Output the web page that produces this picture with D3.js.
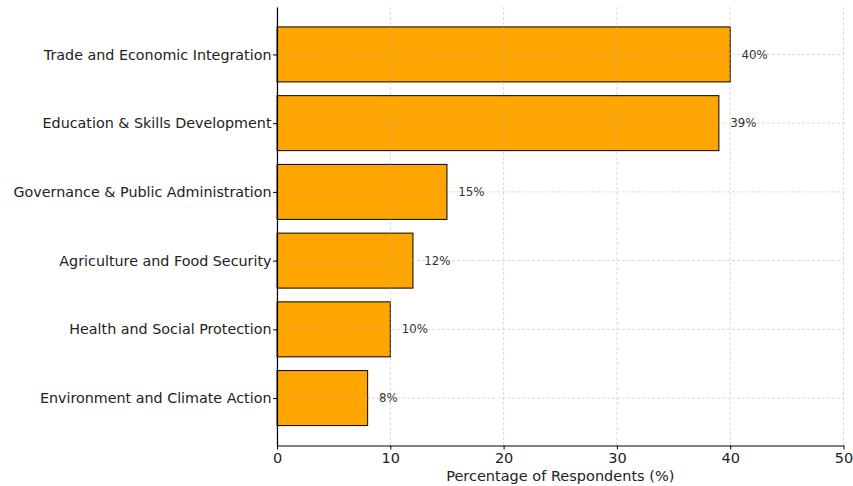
<!DOCTYPE html>
<html><head><meta charset="utf-8">
<script src="https://cdn.jsdelivr.net/npm/d3@7"></script>
<style>body{margin:0;background:#fff}svg{display:block}</style>
</head><body>
<svg id="c" width="853" height="486"></svg>
<script>
const categories = ["Environment and Climate Action","Health and Social Protection","Agriculture and Food Security","Governance & Public Administration","Education & Skills Development","Trade and Economic Integration"];
const values = [8, 10, 12, 15, 39, 40];
const xTicks = [0, 10, 20, 30, 40, 50];
const xLabel = "Percentage of Respondents (%)";

const svg = d3.select("#c");
const L = 277, R = 843.5, T = 7, B = 445.5;
const x = d3.scaleLinear().domain([0, 50]).range([L, R]);
// matplotlib-like continuous y: index positions, bar height 0.8, 5% margins
const lo = -0.4, hi = categories.length - 1 + 0.4, m = (hi - lo) * 0.05;
const y = d3.scaleLinear().domain([lo - m, hi + m]).range([B, T]);
const font = "DejaVu Sans, sans-serif";

// bars
svg.append("g").selectAll("rect").data(values).join("rect")
  .attr("x", x(0))
  .attr("y", (d, i) => y(i + 0.4))
  .attr("width", d => x(d) - x(0))
  .attr("height", (d, i) => y(i - 0.4) - y(i + 0.4))
  .attr("fill", "#FFA500").attr("stroke", "#000").attr("stroke-width", 1);

// grid (on top)
const grid = svg.append("g").attr("stroke", "#b0b0b0").attr("stroke-opacity", 0.6)
  .attr("stroke-dasharray", "3,2").attr("stroke-width", 0.8);
grid.selectAll("line.v").data(xTicks).join("line").attr("class", "v")
  .attr("x1", d => x(d)).attr("x2", d => x(d)).attr("y1", T).attr("y2", B);
grid.selectAll("line.h").data(categories).join("line").attr("class", "h")
  .attr("x1", L).attr("x2", R).attr("y1", (d, i) => y(i)).attr("y2", (d, i) => y(i));

// value labels
svg.append("g").selectAll("text").data(values).join("text")
  .attr("x", d => x(d + 1)).attr("y", (d, i) => y(i)).attr("dy", "0.35em")
  .attr("font-family", font).attr("font-size", 11.8).attr("fill", "#333")
  .text(d => d + "%");

// x axis
const xa = svg.append("g").attr("transform", `translate(0,${B})`)
  .call(d3.axisBottom(x).tickValues(xTicks).tickSize(4).tickPadding(3).tickSizeOuter(0));
xa.select(".domain").attr("stroke", "#000").attr("stroke-width", 1.2);
xa.selectAll("text").attr("font-family", font).attr("font-size", 14.5).attr("fill", "#222");

// y axis
const yv = categories.map((c, i) => i);
const ya = svg.append("g").attr("transform", `translate(${L},0)`)
  .call(d3.axisLeft(y).tickValues(yv).tickFormat(i => categories[i]).tickSize(4).tickPadding(1.5).tickSizeOuter(0));
ya.select(".domain").attr("stroke", "#000").attr("stroke-width", 1.2);
ya.selectAll("text").attr("font-family", font).attr("font-size", 14.3).attr("fill", "#222");

svg.append("text").attr("x", (L + R) / 2).attr("y", 481)
  .attr("text-anchor", "middle").attr("font-family", font).attr("font-size", 14.5).attr("fill", "#222")
  .text(xLabel);
</script>
</body></html>
